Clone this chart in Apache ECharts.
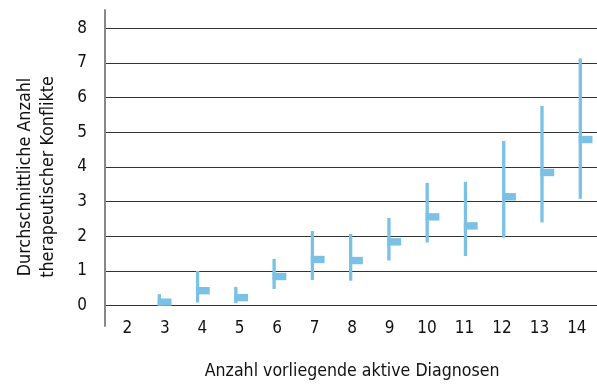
<!DOCTYPE html>
<html>
<head>
<meta charset="utf-8">
<script src="https://cdn.jsdelivr.net/npm/echarts@6/dist/echarts.min.js"></script>
<style>html,body{margin:0;padding:0;background:#fff}#c{width:597px;height:385px}</style>
</head>
<body>
<div id="c"></div>
<script>
const categories = ['2','3','4','5','6','7','8','9','10','11','12','13','14'];
const diagnoses = [2,3,4,5,6,7,8,9,10,11,12,13,14];
const lowValues  = [null,0.00,0.09,0.07,0.48,0.74,0.72,1.30,1.82,1.43,1.96,2.40,3.08];
const highValues = [null,0.33,1.00,0.54,1.35,2.15,2.07,2.53,3.54,3.57,4.75,5.76,7.13];
const meanValues = [null,0.10,0.43,0.23,0.84,1.33,1.30,1.84,2.56,2.30,3.14,3.84,4.79];
const yTicks = [0,1,2,3,4,5,6,7,8];

const FONT = "'Liberation Sans Narrow','DejaVu Sans Condensed','Liberation Sans',sans-serif";
const BLUE = '#7bc1e5';

const data = [];
diagnoses.forEach((d, i) => {
  if (lowValues[i] !== null) data.push([d, lowValues[i], highValues[i], meanValues[i]]);
});

const chart = echarts.init(document.getElementById('c'), null, {renderer: 'canvas'});
chart.setOption({
  animation: false,
  backgroundColor: '#fff',
  grid: [
    {left: 105, right: 0, top: 28.3, bottom: 385 - 305.6},
    {left: 105, width: 10, top: 10, bottom: 385 - 326},
    {left: 108.6, width: 487, top: 28.3, bottom: 385 - 305.6}
  ],
  xAxis: [
    {gridIndex: 0, type: 'value', min: 1.581, max: 14.437, show: false},
    {gridIndex: 1, type: 'value', show: false},
    {gridIndex: 2, type: 'category', data: categories,
     axisLine: {show: false}, axisTick: {show: false},
     axisLabel: {margin: 25, color: '#111', fontSize: 17, fontFamily: FONT},
     name: 'Anzahl vorliegende aktive Diagnosen', nameLocation: 'middle', nameGap: 67,
     nameTextStyle: {color: '#111', fontSize: 17.6, fontFamily: FONT}}
  ],
  yAxis: [
    {gridIndex: 0, type: 'value', min: yTicks[0], max: yTicks[yTicks.length - 1], interval: 1,
     axisLine: {show: false}, axisTick: {show: false},
     axisLabel: {margin: 18, color: '#111', fontSize: 17, fontFamily: FONT},
     splitLine: {show: true, lineStyle: {color: '#333', width: 1}}},
    {gridIndex: 1, type: 'value', min: 0, max: 1,
     axisLine: {show: true, lineStyle: {color: '#888', width: 2}},
     axisTick: {show: false}, axisLabel: {show: false}, splitLine: {show: false}},
    {gridIndex: 2, type: 'value', show: false}
  ],
  graphic: [{
    type: 'text', x: 36.5, y: 177, rotation: Math.PI / 2,
    style: {text: 'Durchschnittliche Anzahl\ntherapeutischer Konflikte', fill: '#111',
            font: '17.8px ' + FONT, align: 'center', verticalAlign: 'middle', lineHeight: 23}
  }],
  series: [{
    type: 'custom', xAxisIndex: 0, yAxisIndex: 0, data: data,
    renderItem: function (params, api) {
      const lo = api.coord([api.value(0), api.value(1)]);
      const hi = api.coord([api.value(0), api.value(2)]);
      const mn = api.coord([api.value(0), api.value(3)]);
      return {type: 'group', children: [
        {type: 'line', shape: {x1: lo[0], y1: lo[1], x2: hi[0], y2: hi[1]},
         style: {stroke: BLUE, lineWidth: 3.3}},
        {type: 'rect', shape: {x: mn[0] - 1.6, y: mn[1] - 3.7, width: 13.8, height: 7.4},
         style: {fill: BLUE}}
      ]};
    }
  }]
});
</script>
</body>
</html>
